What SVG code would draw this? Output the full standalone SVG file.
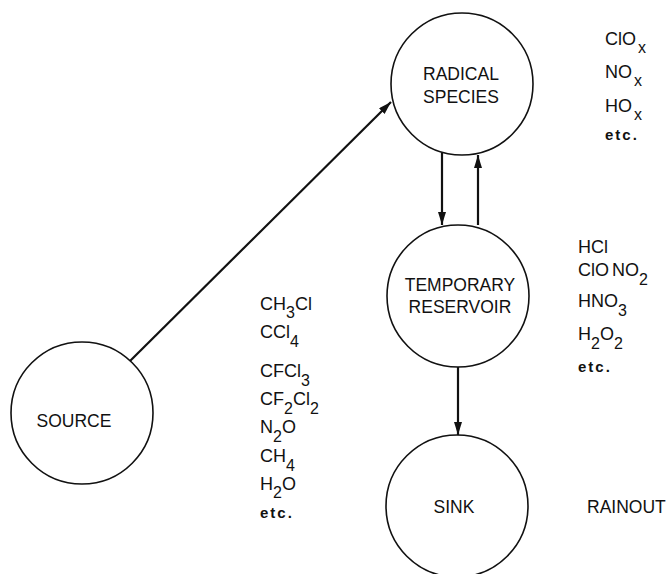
<svg xmlns="http://www.w3.org/2000/svg" width="670" height="574" viewBox="0 0 670 574">
<defs>
<style>
.node{fill:#fff;stroke:#111;stroke-width:1.6}
.lbl{font-family:"Liberation Sans",Arial,sans-serif;font-size:17.5px;fill:#111;text-anchor:middle}
.lst{font-family:"Liberation Sans",Arial,sans-serif;font-size:18px;fill:#111}
.sub{font-size:16px}
.etc{font-size:15px;font-weight:bold;letter-spacing:2px}
.conn{stroke:#111;stroke-width:2.2;fill:none;marker-end:url(#ah)}
</style>
<marker id="ah" markerUnits="userSpaceOnUse" markerWidth="14" markerHeight="10" refX="13" refY="4" orient="auto">
<path d="M0,0 L13,4 L0,8 Z" fill="#111"/>
</marker>
</defs>
<rect width="670" height="574" fill="#fff"/>
<g id="connectors">
<line class="conn" x1="130" y1="361" x2="391" y2="102"/>
<line class="conn" x1="442" y1="153" x2="442" y2="225"/>
<line class="conn" x1="478" y1="225" x2="478" y2="155"/>
<line class="conn" x1="458" y1="367" x2="458" y2="435"/>
</g>
<g id="radical">
<circle class="node" cx="462" cy="84" r="71"/>
<text class="lbl" x="461" y="80">RADICAL</text>
<text class="lbl" x="461" y="103">SPECIES</text>
</g>
<g id="reservoir">
<circle class="node" cx="458" cy="296" r="71"/>
<text class="lbl" x="460" y="291">TEMPORARY</text>
<text class="lbl" x="460" y="313">RESERVOIR</text>
</g>
<g id="source">
<circle class="node" cx="82" cy="413" r="71"/>
<text class="lbl" x="74" y="427">SOURCE</text>
</g>
<g id="sink">
<circle class="node" cx="457" cy="506" r="71"/>
<text class="lbl" x="454" y="513">SINK</text>
</g>
<g id="radical-list">
<text class="lst" x="605" y="45">ClO<tspan class="sub" dx="2" dy="8">x</tspan></text>
<text class="lst" x="605" y="78">NO<tspan class="sub" dx="2" dy="8">x</tspan></text>
<text class="lst" x="605" y="112">HO<tspan class="sub" dx="2" dy="8">x</tspan></text>
<text class="lst etc" x="605" y="140">etc.</text>
</g>
<g id="reservoir-list">
<text class="lst" x="578" y="253">HCl</text>
<text class="lst" x="578" y="276">ClO<tspan dx="3">NO</tspan><tspan class="sub" dy="9">2</tspan></text>
<text class="lst" x="578" y="307">HNO<tspan class="sub" dy="9">3</tspan></text>
<text class="lst" x="578" y="340">H<tspan class="sub" dy="9">2</tspan><tspan dy="-9">O</tspan><tspan class="sub" dy="9">2</tspan></text>
<text class="lst etc" x="578" y="372">etc.</text>
</g>
<g id="source-list">
<text class="lst" x="260" y="310">CH<tspan class="sub" dy="8">3</tspan><tspan dy="-8">Cl</tspan></text>
<text class="lst" x="260" y="338">CCl<tspan class="sub" dy="9">4</tspan></text>
<text class="lst" x="260" y="377">CFCl<tspan class="sub" dy="9">3</tspan></text>
<text class="lst" x="260" y="405">CF<tspan class="sub" dy="9">2</tspan><tspan dy="-9">Cl</tspan><tspan class="sub" dy="9">2</tspan></text>
<text class="lst" x="260" y="433">N<tspan class="sub" dy="9">2</tspan><tspan dy="-9">O</tspan></text>
<text class="lst" x="260" y="462">CH<tspan class="sub" dy="9">4</tspan></text>
<text class="lst" x="260" y="490">H<tspan class="sub" dy="8">2</tspan><tspan dy="-8">O</tspan></text>
<text class="lst etc" x="260" y="518">etc.</text>
</g>
<g id="sink-list">
<text class="lst" x="587" y="513" style="font-size:17.5px">RAINOUT</text>
</g>
</svg>
